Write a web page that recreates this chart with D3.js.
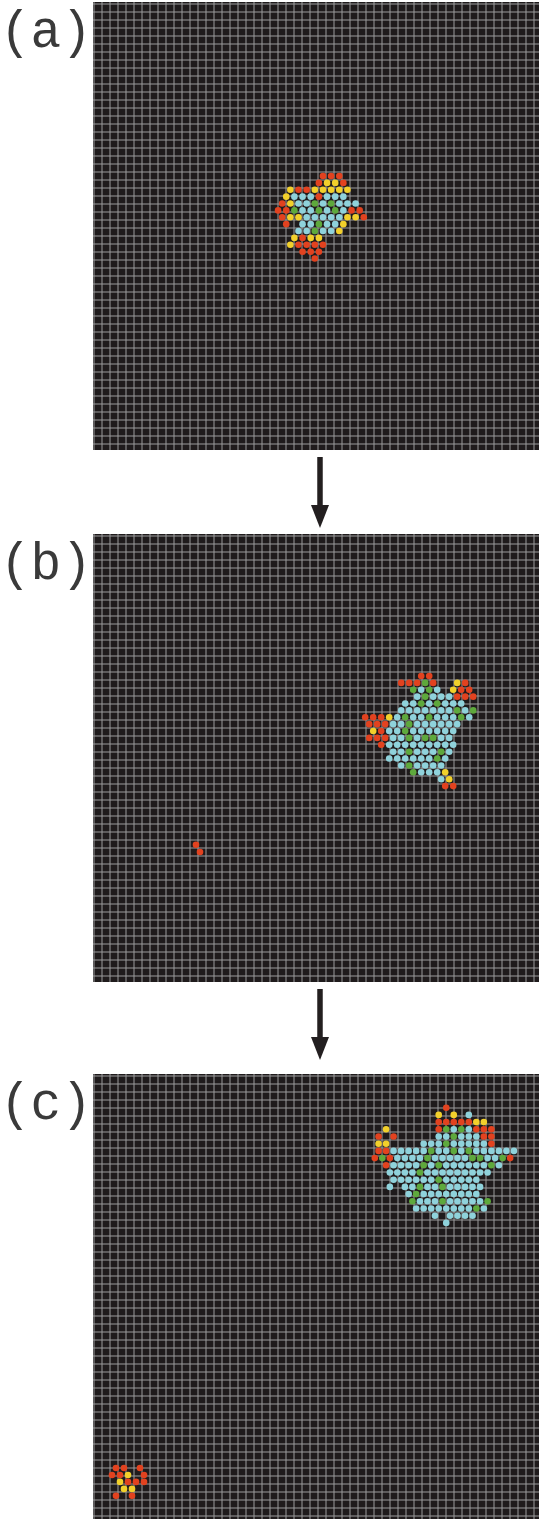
<!DOCTYPE html>
<html>
<head>
<meta charset="utf-8">
<script src="https://cdn.jsdelivr.net/npm/d3@7"></script>
<style>
  body { margin: 0; background: #fff; }
</style>
</head>
<body>
<script>
// panel labels
var panelLabels = ["(a)", "(b)", "(c)"];

// lattice-gas clusters, one string per hexagonal row, one character per half step
// R = red, Y = yellow, C = cyan, G = green, "." = empty
var clusterA = [
  "............R.R.R",
  "...........R.Y.Y.R",
  "....Y.R.R.Y.Y.Y.Y.Y",
  "...Y.C.C.C.R.C.C.C",
  "..R.Y.C.C.G.C.G.C.C.C",
  ".R.R.G.C.C.G.C.G.C.R.R",
  "..R.Y.Y.C.C.C.C.C.Y.Y.R",
  "...R...C.C.G.C.C.Y",
  "......C.C.G.C.C.Y",
  ".....Y.R.Y.Y",
  "....Y.R.R.R.R",
  ".......R.R.R",
  "..........R"
];

var clusterB = [
  "..............R.R",
  ".........R.R.R.G.R.....Y.R",
  "............G.C.G.C...Y.R.R",
  ".............C.G.C.C.C.R.R.R",
  "..........C.C.G.C.G.C.C.C",
  ".........C.C.C.C.C.C.C.G.C.G",
  "R.R.R.Y.C.G.C.C.G.C.C.C.G.C",
  ".R.R.R.C.C.G.C.C.C.C.C.C",
  "..Y.R.C.C.G.C.C.C.C.C.C",
  ".R.R.R.C.C.G.C.G.G.C.C",
  "....R.C.C.C.C.C.C.C.C.C",
  ".......C.C.G.C.C.C.G.C",
  "......C.C.C.C.C.C.G.C",
  ".........C.G.C.C.C.C",
  "............G.C.C.C.Y",
  "...................C.Y",
  "....................R.R"
];

var clusterB2 = [
  "R",
  ".R"
];

var clusterC = [
  "...................R",
  ".................Y...Y...C",
  ".................R.R.R.R.R.Y.Y",
  "...Y.............R.G.C.G.C.R.R.R",
  ".R...R...........C.C.G.C.C.C.R.R",
  ".Y.Y.........C.C.C.G.C.C.C.C.C.R",
  ".R.R.C.C.C.C.C.G.C.C.G.C.G.C.C.C.C.C.C",
  "R.G.R.C.C.C.C.G.C.C.C.C.C.G.G.C.C.G.R",
  "...R.C.C.C.C.G.C.G.C.C.C.C.C.C.G.C",
  "....C.C.C.C.G.C.C.C.C.C.C.C.C.C",
  ".....C.C.C.C.C.C.G.C.C.C.C.C",
  "....C...C.C.G.C.C.G.C.C.C.C.C",
  ".........C.G.C.C.C.C.C.C.C.C",
  "..........G.C.C.C.G.C.C.C.C.C.G",
  "...........C.C.C.C.C.C.C.C.G.C",
  "................C...C.C.C.C",
  "...................C"
];

var clusterC2 = [
  ".R.R...R",
  "R.R.Y...R",
  "..Y.R.R.R",
  "...Y.Y",
  ".R...R"
];

// where each cluster sits, in grid cells (56 x 56 per panel)
var clusters = [
  { panel: 0, gx: 22.5, gy: 21.5, dx: 0.51, dy: 0.86, rows: clusterA },
  { panel: 1, gx: 33.9, gy: 17.5, dx: 0.5,  dy: 0.86, rows: clusterB },
  { panel: 1, gx: 12.75, gy: 38.6, dx: 0.5, dy: 0.9,  rows: clusterB2 },
  { panel: 2, gx: 35.1, gy: 3.96, dx: 0.47, dy: 0.9,  rows: clusterC },
  { panel: 2, gx: 2.25, gy: 49,   dx: 0.5,  dy: 0.87, rows: clusterC2 }
];

var colors = { R: "#e2421f", Y: "#f2d02b", C: "#8fd2db", G: "#5ea93c" };

var particles = [];
clusters.forEach(function(c) {
  c.rows.forEach(function(row, j) {
    row.split("").forEach(function(ch, k) {
      if (ch !== ".") {
        particles.push({ panel: c.panel, gx: c.gx + k * c.dx, gy: c.gy + j * c.dy, t: ch });
      }
    });
  });
});

var svg = d3.select("body")
            .append("svg")
            .attr("width", 539)
            .attr("height", 1519);

var panelTops = [2, 534, 1074];
var left = 93, size = 448, cell = 8, ncell = 56;

panelTops.forEach(function(top, i) {
  var x = d3.scaleLinear().domain([0, ncell]).range([left + 1, left + 1 + ncell * cell]);
  var y = d3.scaleLinear().domain([0, ncell]).range([top + 2, top + 2 + ncell * cell]);

  var g = svg.append("g");

  g.append("rect")
    .attr("x", left)
    .attr("y", top)
    .attr("width", size)
    .attr("height", size)
    .attr("fill", "#1f1b1c");

  g.selectAll(".v")
    .data(d3.range(0, ncell))
    .enter().append("line")
    .attr("x1", function(d) { return x(d); })
    .attr("x2", function(d) { return x(d); })
    .attr("y1", top)
    .attr("y2", top + size)
    .attr("stroke", "#9c9c9c")
    .attr("stroke-width", 1);

  g.selectAll(".h")
    .data(d3.range(0, ncell))
    .enter().append("line")
    .attr("x1", left)
    .attr("x2", left + size)
    .attr("y1", function(d) { return y(d); })
    .attr("y2", function(d) { return y(d); })
    .attr("stroke", "#9c9c9c")
    .attr("stroke-width", 1);

  g.selectAll("circle")
    .data(particles.filter(function(p) { return p.panel === i; }))
    .enter().append("circle")
    .attr("cx", function(p) { return x(p.gx); })
    .attr("cy", function(p) { return y(p.gy); })
    .attr("r", 3.3)
    .attr("fill", function(p) { return colors[p.t]; });

  svg.append("text")
    .attr("x", 0)
    .attr("y", top + 45)
    .attr("font-family", "Liberation Mono, Courier New, monospace")
    .attr("font-size", 51)
    .attr("fill", "#3a3a3a")
    .text(panelLabels[i]);
});

// arrows between panels
var arrows = [{ y1: 457, y2: 528 }, { y1: 989, y2: 1060 }];
arrows.forEach(function(a) {
  svg.append("line")
    .attr("x1", 320).attr("x2", 320)
    .attr("y1", a.y1).attr("y2", a.y2 - 20)
    .attr("stroke", "#231f20")
    .attr("stroke-width", 5.5);
  svg.append("path")
    .attr("d", "M" + 311 + "," + (a.y2 - 23) + "L" + 329 + "," + (a.y2 - 23) + "L320," + a.y2 + "Z")
    .attr("fill", "#231f20");
});
</script>
</body>
</html>
